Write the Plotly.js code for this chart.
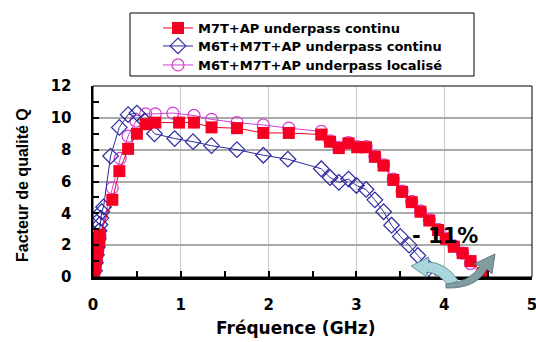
<!DOCTYPE html>
<html>
<head>
<meta charset="utf-8">
<script src="https://cdn.plot.ly/plotly-3.0.1.min.js"></script>
<style>html,body{margin:0;padding:0;background:#fff;}#chart{width:536px;height:342px;}</style>
</head>
<body>
<div id="chart"></div>
<script>
// ---- data (frequency in GHz, quality factor Q) ----
const seriesNames = ["M7T+AP underpass continu", "M6T+M7T+AP underpass continu", "M6T+M7T+AP underpass localisé"];

const freqM7T = [0.01,0.02,0.03,0.04,0.05,0.06,0.07,0.08,0.22,0.30,0.40,0.50,0.60,0.71,0.98,1.15,1.35,1.64,1.94,2.23,2.60,2.70,2.80,2.91,3.01,3.11,3.21,3.31,3.42,3.52,3.63,3.73,3.83,3.93,4.02,4.11,4.21,4.30,4.44];
const qM7T    = [0.2,0.55,0.9,1.25,1.6,1.95,2.3,2.65,4.85,6.65,8.05,9.0,9.6,9.7,9.7,9.7,9.4,9.35,9.05,9.05,8.95,8.5,8.1,8.4,8.15,8.15,7.55,7.0,6.1,5.35,4.7,4.1,3.55,2.95,2.4,1.9,1.5,1.0,0.25];

const freqM6M7 = [0.02,0.03,0.04,0.05,0.06,0.07,0.08,0.09,0.10,0.12,0.20,0.30,0.40,0.50,0.59,0.70,0.93,1.14,1.35,1.64,1.94,2.22,2.60,2.70,2.80,2.91,3.00,3.11,3.21,3.31,3.40,3.50,3.60,3.70,3.80,3.91];
const qM6M7    = [0.4,0.9,1.4,1.9,2.4,2.9,3.3,3.7,4.1,4.4,7.6,9.4,10.2,10.3,9.8,9.0,8.7,8.5,8.25,8.0,7.65,7.4,6.8,6.25,5.95,6.15,5.75,5.5,4.85,4.1,3.25,2.55,2.0,1.35,0.7,0.05];

const freqLoc = [0.01,0.02,0.03,0.04,0.05,0.06,0.07,0.08,0.22,0.31,0.40,0.49,0.60,0.71,0.91,1.15,1.35,1.64,1.94,2.23,2.60,2.70,2.80,2.91,3.01,3.11,3.21,3.31,3.42,3.52,3.63,3.73,3.83,3.93,4.02,4.11,4.21,4.30,4.44];
const qLoc    = [0.2,0.5,0.85,1.2,1.55,1.9,2.25,2.6,5.6,7.45,8.85,9.8,10.25,10.25,10.3,10.15,9.9,9.7,9.55,9.35,9.15,8.55,8.15,8.45,8.2,8.2,7.6,7.05,6.15,5.4,4.75,4.15,3.6,3.0,2.45,1.95,1.5,0.85,0.0];

const xTickVals = [0,1,2,3,4,5];
const yTickVals = [0,2,4,6,8,10,12];
const xTitle = "Fréquence (GHz)";
const yTitle = "Facteur de qualité Q";
const noteText = "- 11%";

// ---- layout helpers (plot area in pixels) ----
const M = {l: 93, r: 4, t: 86, b: 65};
const W = 536, H = 342;
const PW = W - M.l - M.r, PH = H - M.t - M.b;
const px = x => (x - M.l) / PW;
const py = y => (H - M.b - y) / PH;
function pathFromPx(cmds) {
  return cmds.map(c => {
    const out = [c[0]];
    for (let i = 1; i < c.length; i += 2) out.push(px(c[i]).toFixed(4) + "," + py(c[i+1]).toFixed(4));
    return out.join(" ");
  }).join(" ") + " Z";
}

const wide = "DejaVu Sans, Verdana, sans-serif";
const narrow = "Liberation Sans, Arial, sans-serif";

const traces = [
  {
    x: freqLoc, y: qLoc, name: seriesNames[2], type: "scatter", mode: "lines+markers",
    line: {color: "#d23fd2", width: 1},
    marker: {symbol: "circle-open", size: 12, color: "#d23fd2", line: {width: 1.2}},
    legend: "legend3"
  },
  {
    x: freqM6M7, y: qM6M7, name: seriesNames[1], type: "scatter", mode: "lines+markers",
    line: {color: "#2a2aa0", width: 1},
    marker: {symbol: "diamond-open", size: 12, color: "#2a2aa0", line: {width: 1.2}},
    legend: "legend2"
  },
  {
    x: freqM7T, y: qM7T, name: seriesNames[0], type: "scatter", mode: "lines+markers",
    line: {color: "#e8001c", width: 1},
    marker: {symbol: "square", size: 12, color: "#f50022", line: {width: 0}},
    legend: "legend"
  }
];

const shapes = [
  {type: "rect", xref: "paper", yref: "paper", x0: px(130), x1: px(474), y0: py(13), y1: py(76),
   line: {color: "#000", width: 1}, fillcolor: "rgba(0,0,0,0)", layer: "below"},
  {type: "rect", xref: "paper", yref: "paper", x0: 0, x1: 1, y0: 0, y1: 1,
   line: {color: "#000", width: 1}, layer: "above"},
  {type: "path", xref: "paper", yref: "paper", layer: "above",
   path: pathFromPx([["M",411,266],["L",429,257],["L",428,262],["Q",445,262,458,280],["L",449,287],["Q",440,273,427,272],["L",427,277]]),
   fillcolor: "#a9d5dd", line: {color: "#5d7f88", width: 0.8}},
  {type: "path", xref: "paper", yref: "paper", layer: "above",
   path: pathFromPx([["M",446,284],["Q",470,282,480,266],["L",474,264],["L",495,254],["L",492,274],["L",487,269],["Q",476,289,446,288]]),
   fillcolor: "#819da0", line: {color: "#4f6b70", width: 0.8}}
];

function legendAt(rowY) {
  return {
    x: px(158), y: py(rowY), xanchor: "left", yanchor: "middle",
    bgcolor: "rgba(0,0,0,0)", borderwidth: 0,
    font: {family: wide, size: 13, color: "#000", weight: "bold"},
    itemwidth: 30
  };
}

const layout = {
  width: W, height: H,
  margin: M,
  paper_bgcolor: "#fff", plot_bgcolor: "#fff",
  font: {family: wide, color: "#000"},
  showlegend: true,
  legend: legendAt(28),
  legend2: legendAt(46),
  legend3: legendAt(65),
  xaxis: {
    range: [0, 5], tickvals: xTickVals, ticktext: xTickVals.map(String),
    showgrid: true, gridcolor: "#c8c8c8", gridwidth: 1,
    zeroline: false, showline: true, linecolor: "#000", linewidth: 2.5,
    ticks: "inside", ticklen: 6, tickwidth: 2, tickcolor: "#000",
    minor: {tickvals: [0.5,1.5,2.5,3.5,4.5], ticks: "inside", ticklen: 6, tickwidth: 2, tickcolor: "#000", showgrid: false},
    ticklabelstandoff: 12, ticklabeloverflow: "allow",
    tickfont: {family: wide, size: 15, color: "#000", weight: "bold"}
  },
  yaxis: {
    range: [0, 12], tickvals: yTickVals, ticktext: yTickVals.map(String),
    showgrid: true, gridcolor: "#aaaaaa", gridwidth: 2,
    zeroline: false, showline: true, linecolor: "#000", linewidth: 2.5,
    ticks: "inside", ticklen: 6, tickwidth: 2, tickcolor: "#000",
    minor: {tickvals: [1,3,5,7,9,11], ticks: "inside", ticklen: 6, tickwidth: 2, tickcolor: "#000", showgrid: false},
    ticklabelstandoff: 16,
    tickfont: {family: wide, size: 15, color: "#000", weight: "bold"}
  },
  shapes: shapes,
  annotations: [
    {text: xTitle, xref: "paper", yref: "paper", x: px(295), y: py(328), xanchor: "center", yanchor: "middle",
     showarrow: false, font: {family: wide, size: 17, color: "#000", weight: "bold"}},
    {text: yTitle, xref: "paper", yref: "paper", x: px(22), y: py(185), xanchor: "center", yanchor: "middle",
     textangle: -90, showarrow: false, font: {family: narrow, size: 16, color: "#000", weight: "bold"}},
    {text: noteText, xref: "paper", yref: "paper", x: px(445), y: py(236), xanchor: "center", yanchor: "middle",
     showarrow: false, font: {family: wide, size: 21, color: "#000", weight: "bold"}}
  ]
};

Plotly.newPlot("chart", traces, layout, {displayModeBar: false, staticPlot: true});
</script>
</body>
</html>
